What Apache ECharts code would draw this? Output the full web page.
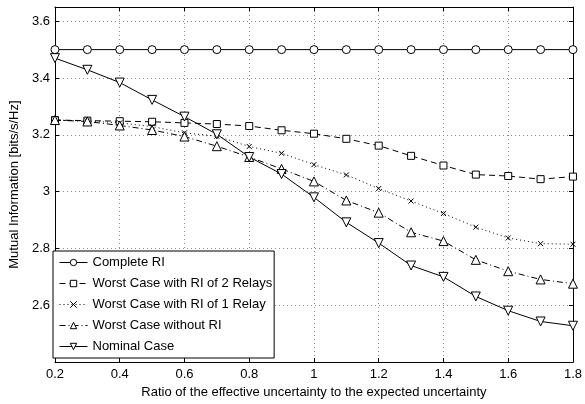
<!DOCTYPE html>
<html>
<head>
<meta charset="utf-8">
<script src="https://cdn.jsdelivr.net/npm/echarts@6/dist/echarts.min.js"></script>
<style>
html,body{margin:0;padding:0;background:#fff;}
#chart{width:585px;height:404px;}
</style>
</head>
<body>
<div id="chart"></div>
<script>
var ratios = [0.2, 0.3, 0.4, 0.5, 0.6, 0.7, 0.8, 0.9, 1.0, 1.1, 1.2, 1.3, 1.4, 1.5, 1.6, 1.7, 1.8];
var completeRI = [3.5, 3.5, 3.5, 3.5, 3.5, 3.5, 3.5, 3.5, 3.5, 3.5, 3.5, 3.5, 3.5, 3.5, 3.5, 3.5, 3.5];
var worst2Relays = [3.252, 3.250, 3.248, 3.246, 3.242, 3.238, 3.231, 3.216, 3.204, 3.186, 3.162, 3.126, 3.092, 3.060, 3.055, 3.044, 3.053];
var worst1Relay = [3.252, 3.249, 3.242, 3.229, 3.207, 3.195, 3.159, 3.135, 3.095, 3.059, 3.011, 2.967, 2.923, 2.875, 2.837, 2.817, 2.815];
var worstNoRI = [3.252, 3.247, 3.233, 3.217, 3.194, 3.160, 3.122, 3.080, 3.036, 2.969, 2.926, 2.857, 2.826, 2.760, 2.720, 2.691, 2.676];
var nominal = [3.470, 3.429, 3.384, 3.323, 3.264, 3.202, 3.122, 3.062, 2.980, 2.892, 2.819, 2.740, 2.700, 2.631, 2.581, 2.543, 2.528];
var seriesNames = ['Complete RI', 'Worst Case with RI of 2 Relays', 'Worst Case with RI of 1 Relay', 'Worst Case without RI', 'Nominal Case'];
var xTicks = [0.2, 0.4, 0.6, 0.8, 1, 1.2, 1.4, 1.6, 1.8];
var yTicks = [2.6, 2.8, 3, 3.2, 3.4, 3.6];

var FONT = '"Liberation Sans", Arial, Helvetica, sans-serif';
var FS = 13;
function pairs(vals) { return ratios.map(function (x, i) { return [x, vals[i]]; }); }
function fmtY(v) {
  for (var i = 0; i < yTicks.length; i++) if (Math.abs(yTicks[i] - v) < 1e-6) return String(yTicks[i]);
  return '';
}
function fmtX(v) {
  for (var i = 0; i < xTicks.length; i++) if (Math.abs(xTicks[i] - v) < 1e-6) return String(xTicks[i]);
  return '';
}
var gridLine = { show: true, lineStyle: { color: '#888', width: 1, type: [1, 3] } };
var axisLine = { show: true, onZero: false, lineStyle: { color: '#000', width: 1 } };
var tick = { show: true, inside: true, length: 4, lineStyle: { color: '#000' } };
var label = { color: '#000', fontSize: FS, fontFamily: FONT };
var markerStyle = { color: '#fff', borderColor: '#000', borderWidth: 1 };
var xMark = 'path://M0,0L10,10M10,0L0,10';

function mkSeries(name, vals, sym, size, lineType, rotate) {
  return {
    name: name, type: 'line', data: pairs(vals),
    symbol: sym, symbolSize: size, symbolRotate: rotate || 0,
    showAllSymbol: true, animation: false,
    lineStyle: { color: '#000', width: 1, type: lineType },
    itemStyle: markerStyle,
    emphasis: { disabled: true }
  };
}

var chart = echarts.init(document.getElementById('chart'), null, { renderer: 'canvas' });
chart.setOption({
  backgroundColor: '#fff',
  animation: false,
  textStyle: { fontFamily: FONT },
  grid: { left: 48, right: 6, top: 7, bottom: 34, containLabel: false },
  legend: {
    orient: 'vertical', left: 53, top: 251,
    backgroundColor: '#fff', borderColor: '#000', borderWidth: 1,
    padding: [5, 2, 5, 6], itemGap: 8, itemWidth: 28, itemHeight: 8,
    lineStyle: { width: 1 },
    itemStyle: { borderWidth: 1 },
    textStyle: { color: '#000', fontSize: FS, fontFamily: FONT },
    data: seriesNames
  },
  xAxis: [{
    type: 'value', min: 0.2, max: 1.8, interval: 0.2, position: 'bottom',
    name: 'Ratio of the effective uncertainty to the expected uncertainty',
    nameLocation: 'middle', nameGap: 19,
    nameTextStyle: { color: '#000', fontSize: FS, fontFamily: FONT },
    axisLine: axisLine, axisTick: tick, splitLine: gridLine,
    axisLabel: Object.assign({ margin: 6, formatter: fmtX }, label)
  }, {
    type: 'value', min: 0.2, max: 1.8, interval: 0.2, position: 'top',
    axisLine: axisLine, axisTick: tick, splitLine: { show: false },
    axisLabel: { show: false }
  }],
  yAxis: [{
    type: 'value', min: 2.4, max: 3.65, interval: 0.2, position: 'left',
    name: 'Mutual Information [bits/s/Hz]',
    nameLocation: 'middle', nameGap: 19, nameRotate: 90,
    nameTextStyle: { color: '#000', fontSize: FS, fontFamily: FONT },
    axisLine: axisLine, axisTick: tick, splitLine: gridLine,
    axisLabel: Object.assign({ margin: 5, formatter: fmtY }, label)
  }, {
    type: 'value', min: 2.4, max: 3.65, interval: 0.2, position: 'right',
    axisLine: axisLine, axisTick: tick, splitLine: { show: false },
    axisLabel: { show: false }
  }],
  series: [
    mkSeries(seriesNames[0], completeRI, 'circle', 8, 'solid'),
    mkSeries(seriesNames[1], worst2Relays, 'rect', 7, [6, 4]),
    mkSeries(seriesNames[2], worst1Relay, xMark, 5, [1, 3]),
    mkSeries(seriesNames[3], worstNoRI, 'triangle', 9, [6, 3, 1, 3]),
    mkSeries(seriesNames[4], nominal, 'triangle', 9, 'solid', 180)
  ]
});
</script>
</body>
</html>
